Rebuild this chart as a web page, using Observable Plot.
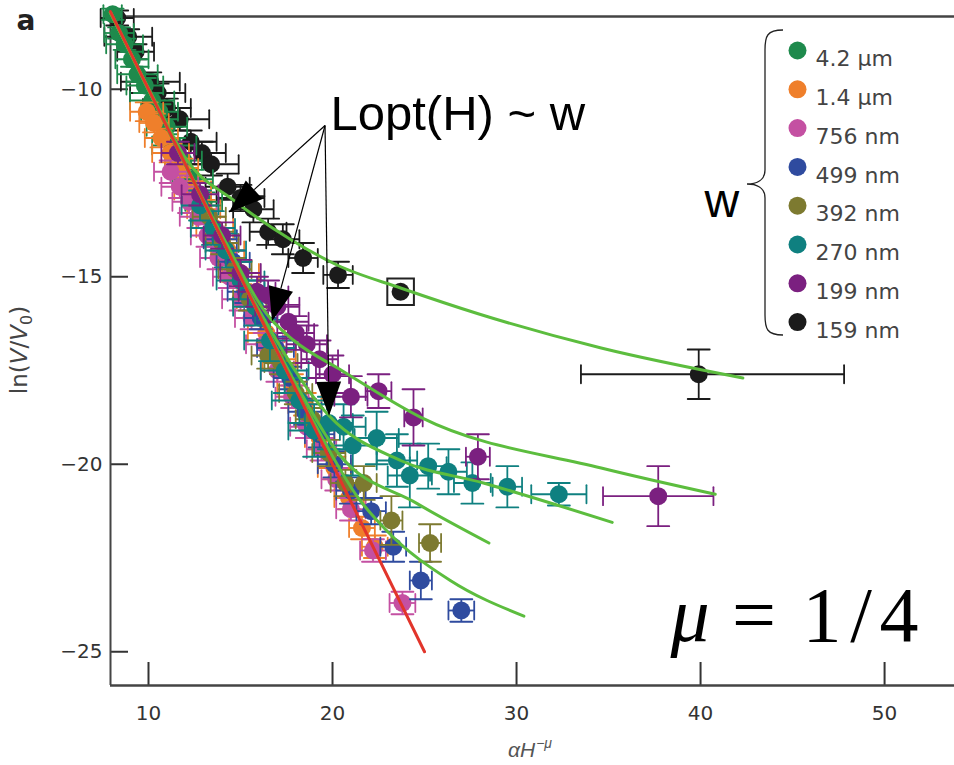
<!DOCTYPE html>
<html><head><meta charset="utf-8">
<script src="https://cdn.jsdelivr.net/npm/d3@7"></script>
<script src="https://cdn.jsdelivr.net/npm/@observablehq/plot@0.6"></script>
<style>html,body{margin:0;padding:0;background:#fff;} svg{display:block;}</style>
</head><body><div id="chart"></div>
<script>
// ---- legend / series meta ----
const seriesNames  = ["4.2 µm", "1.4 µm", "756 nm", "499 nm", "392 nm", "270 nm", "199 nm", "159 nm"];
const seriesColors = ["#1e8a4c", "#ef7f2b", "#c450a2", "#2f4b9f", "#7d7a30", "#0f8080", "#7b2080", "#1b1b1b"];

// ---- ticks ----
const xTicks = [10, 20, 30, 40, 50];
const yTicks = [-10, -15, -20, -25];

// ---- data: x, y, x-error (half width or [left,right]), y-error ----
const x159 = [8.3, 8.9, 9.3, 10.1, 10.5, 11.0, 11.7, 12.3, 12.9, 13.4, 14.3, 15.0, 15.7, 16.5, 17.3, 18.4, 20.3, 23.7, 39.9];
const y159 = [-8.1, -8.6, -9.0, -9.8, -10.1, -10.5, -10.8, -11.4, -11.7, -12.0, -12.6, -12.9, -13.2, -13.8, -14.0, -14.5, -14.95, -15.4, -17.6];
const ex159 = [0.9, 1.3, 1.0, 1.6, 1.5, 1.3, 1.6, 1.4, 1.3, 1.5, 1.2, 1.3, 1.1, 1.0, 0.9, 0.8, 0.8, 0, [6.4, 7.9]];
const ey159 = [0.2, 0.2, 0.2, 0.25, 0.25, 0.25, 0.3, 0.3, 0.3, 0.3, 0.35, 0.35, 0.35, 0.35, 0.4, 0.4, 0.35, 0, 0.66];

const x42 = [8.05, 8.4, 8.7, 9.1, 9.4, 9.8, 10.2, 10.6, 11.0, 11.4, 11.9, 12.4, 13.0];
const y42 = [-8.0, -8.5, -8.8, -9.2, -9.6, -9.9, -10.3, -10.6, -11.0, -11.5, -11.9, -12.4, -13.0];
const ex42 = [0.5, 0.8, 1.0, 0.9, 1.1, 1.0, 1.2, 1.0, 1.1, 1.2, 1.0, 1.1, 1.0];
const ey42 = [0.15, 0.15, 0.15, 0.2, 0.2, 0.2, 0.2, 0.2, 0.2, 0.2, 0.2, 0.25, 0.25];

const x14 = [9.9, 10.3, 10.7, 11.2, 11.8, 12.4, 13.0, 13.6, 14.3, 15.0, 15.7, 16.4, 17.1, 17.8, 18.5, 19.3, 20.1, 20.9, 21.6, 22.3];
const y14 = [-10.6, -10.9, -11.3, -11.7, -12.1, -12.7, -13.2, -13.7, -14.3, -14.9, -15.6, -16.5, -17.2, -17.9, -18.4, -19.3, -20.1, -20.9, -21.7, -22.2];
const ex14 = [0.9, 0.8, 0.9, 1.0, 0.9, 1.0, 0.9, 1.0, 0.9, 1.0, 0.9, 1.0, 0.9, 0.8, 0.9, 0.8, 0.9, 0.8, 0.7, 0.7];
const ey14 = [0.25, 0.25, 0.25, 0.25, 0.25, 0.25, 0.25, 0.3, 0.3, 0.3, 0.3, 0.3, 0.3, 0.3, 0.3, 0.3, 0.3, 0.3, 0.3, 0.3];

const x756 = [11.2, 11.7, 12.2, 12.7, 13.2, 13.8, 14.4, 15.0, 15.6, 16.3, 17.0, 17.8, 18.6, 19.4, 20.2, 21.0, 22.2, 23.8];
const y756 = [-12.2, -12.6, -13.0, -13.4, -13.9, -14.5, -15.0, -15.6, -16.1, -16.8, -17.5, -18.2, -19.0, -19.6, -20.4, -21.2, -22.3, -23.7];
const ex756 = [0.9, 1.0, 0.9, 1.0, 0.9, 1.0, 0.9, 1.0, 0.9, 1.0, 0.9, 0.9, 0.9, 0.8, 0.8, 0.8, 0.7, 0.7];
const ey756 = [0.3, 0.3, 0.3, 0.3, 0.3, 0.3, 0.3, 0.3, 0.3, 0.3, 0.3, 0.3, 0.3, 0.3, 0.3, 0.3, 0.3, 0.3];

const x499 = [13.9, 14.6, 15.3, 16.1, 16.9, 17.7, 18.5, 19.3, 20.1, 21.0, 22.1, 23.3, 24.8, 27.0];
const y499 = [-14.0, -14.6, -15.4, -16.1, -16.9, -17.7, -18.6, -19.2, -20.0, -20.7, -21.25, -22.2, -23.1, -23.9];
const ex499 = [0.9, 0.9, 1.0, 0.9, 1.0, 0.9, 0.9, 0.8, 0.9, 0.8, 0.8, 0.7, 0.6, 0.7];
const ey499 = [0.3, 0.3, 0.3, 0.3, 0.3, 0.3, 0.35, 0.35, 0.35, 0.35, 0.35, 0.4, 0.5, 0.3];

const x392 = [13.3, 14.0, 14.7, 15.5, 16.5, 17.2, 18.0, 18.9, 19.8, 20.7, 21.7, 23.2, 25.3];
const y392 = [-13.4, -14.1, -14.8, -15.6, -17.1, -17.3, -18.1, -18.8, -19.7, -20.5, -20.5, -21.5, -22.1];
const ex392 = [0.9, 0.9, 0.9, 0.9, 0.9, 0.9, 0.9, 0.9, 0.9, 0.8, 0.7, 0.6, 0.6];
const ey392 = [0.3, 0.3, 0.3, 0.3, 0.35, 0.3, 0.3, 0.3, 0.35, 0.35, 0.45, 0.65, 0.5];

const x270 = [12.8, 13.5, 14.2, 15.0, 15.8, 16.6, 17.4, 18.2, 19.0, 19.8, 20.6, 21.1, 22.4, 23.5, 24.2, 25.2, 26.3, 27.6, 29.5, 32.3];
const y270 = [-13.1, -13.7, -14.3, -15.1, -15.8, -16.7, -17.5, -18.3, -19.1, -18.9, -19.0, -19.5, -19.3, -19.9, -20.3, -20.05, -20.2, -20.5, -20.6, -20.8];
const ex270 = [1.0, 1.2, 1.1, 1.3, 1.2, 1.4, 1.3, 1.5, 1.4, 1.3, 1.2, 1.3, 1.2, 1.1, 1.2, 1.0, 1.0, 1.0, 0.8, 1.5];
const ey270 = [0.4, 0.45, 0.45, 0.5, 0.5, 0.55, 0.6, 0.6, 0.7, 0.7, 0.6, 0.8, 0.7, 0.7, 0.85, 0.6, 0.6, 0.55, 0.55, 0.3];

const x199 = [11.6, 12.8, 14.0, 15.0, 15.9, 16.5, 17.0, 17.6, 18.0, 18.6, 19.3, 20.0, 21.0, 22.5, 24.4, 27.9, 37.7];
const y199 = [-11.7, -12.8, -13.9, -14.9, -15.4, -15.5, -15.8, -16.2, -16.5, -16.8, -17.2, -17.6, -18.2, -18.05, -18.75, -19.8, -20.85];
const ex199 = [0.9, 1.0, 1.0, 1.1, 1.0, 1.1, 1.2, 1.1, 1.0, 1.1, 1.0, 0.9, 0.9, 0.7, 0.5, 0.65, 3.0];
const ey199 = [0.3, 0.3, 0.35, 0.35, 0.4, 0.4, 0.4, 0.45, 0.45, 0.5, 0.5, 0.5, 0.55, 0.45, 0.75, 0.6, 0.8];

// boxed point (159 nm)
const boxX = [23.7], boxY = [-15.4];

// ---- fitted curves (green) and the straight law (red) ----
const cx159 = [7.93, 10.5, 12.1, 14.6, 17.7, 20.3, 23.7, 28.0, 34.6, 42.3];
const cy159 = [-7.95, -10.45, -11.9, -12.95, -14.0, -14.7, -15.3, -16.0, -16.9, -17.7];
const cx199 = [7.93, 11.0, 14.0, 16.6, 17.9, 20.5, 24.8, 34.6, 40.8];
const cy199 = [-7.95, -11.0, -13.9, -16.1, -16.7, -17.5, -18.75, -20.1, -20.8];
const cx270 = [7.93, 12.0, 15.9, 19.8, 23.7, 28.2, 35.2];
const cy270 = [-7.95, -12.0, -15.8, -18.7, -19.9, -20.5, -21.55];
const cx392 = [7.93, 14.0, 18.0, 20.3, 24.6, 28.5];
const cy392 = [-7.95, -14.0, -17.85, -19.7, -21.05, -22.1];
const cx499 = [7.93, 14.0, 19.0, 21.4, 23.0, 26.4, 30.4];
const cy499 = [-7.95, -14.0, -18.9, -20.9, -21.8, -23.1, -24.05];
const redX = [7.93, 25.0];
const redY = [-7.93, -25.0];

// annotation arrows (data coords): common origin and three tips
const arrowFrom = [19.62, -10.98];
const arrowTipX = [14.4, 16.74, 19.84];
const arrowTipY = [-13.3, -16.2, -18.72];

// ---- build ----
function rows(xs, ys, exs, eys) {
  return xs.map((x, i) => {
    const e = exs[i];
    const [l, r] = Array.isArray(e) ? e : [e, e];
    return {x, y: ys[i], xl: x - l, xh: x + r, yl: ys[i] - eys[i], yh: ys[i] + eys[i]};
  });
}
const seriesData = {
  "159 nm": rows(x159, y159, ex159, ey159),
  "4.2 µm": rows(x42, y42, ex42, ey42),
  "1.4 µm": rows(x14, y14, ex14, ey14),
  "756 nm": rows(x756, y756, ex756, ey756),
  "499 nm": rows(x499, y499, ex499, ey499),
  "392 nm": rows(x392, y392, ex392, ey392),
  "270 nm": rows(x270, y270, ex270, ey270),
  "199 nm": rows(x199, y199, ex199, ey199)
};
const drawOrder = ["159 nm", "4.2 µm", "1.4 µm", "756 nm", "499 nm", "392 nm", "270 nm", "199 nm"];
const colorOf = Object.fromEntries(seriesNames.map((n, i) => [n, seriesColors[i]]));

const lineShape = {draw(ctx, l) { ctx.moveTo(0, 0); ctx.lineTo(0, -l); }};
const EW = 1.8;

const seriesMarks = drawOrder.flatMap(name => {
  const d = seriesData[name], c = colorOf[name];
  const dx = d.filter(r => r.xh > r.xl), dy = d.filter(r => r.yh > r.yl);
  const xCaps = dx.flatMap(r => [{x: r.xl, y: r.y}, {x: r.xh, y: r.y}]);
  const yCaps = dy.flatMap(r => [{x: r.x, y: r.yl}, {x: r.x, y: r.yh}]);
  return [
    Plot.link(dx, {x1: "xl", x2: "xh", y1: "y", y2: "y", stroke: c, strokeWidth: EW}),
    Plot.link(dy, {x1: "x", x2: "x", y1: "yl", y2: "yh", stroke: c, strokeWidth: EW}),
    Plot.vector(xCaps, {x: "x", y: "y", length: 18, rotate: 0, anchor: "middle", shape: lineShape, stroke: c, strokeWidth: EW}),
    Plot.vector(yCaps, {x: "x", y: "y", length: 22, rotate: 90, anchor: "middle", shape: lineShape, stroke: c, strokeWidth: EW}),
    Plot.dot(d, {x: "x", y: "y", r: 9, fill: c})
  ];
});

const curveMarks = [[cx159, cy159], [cx199, cy199], [cx270, cy270], [cx392, cy392], [cx499, cy499]]
  .map(([xs, ys]) => Plot.line(xs.map((x, i) => ({x, y: ys[i]})), {x: "x", y: "y", stroke: "#5cbd3e", strokeWidth: 3, curve: "monotone-x"}));

const SANS = "'DejaVu Sans', Verdana, sans-serif";
const legendMarks = seriesNames.flatMap((n, i) => [
  Plot.dot([n], {frameAnchor: "top-right", dx: -157, dy: 34 + i * 38.8, r: 9, fill: seriesColors[i]}),
  Plot.text([n], {frameAnchor: "top-right", dx: -139, dy: 34 + i * 38.8, text: d => d, textAnchor: "start", fontSize: 22, fontFamily: SANS, fill: "#444"})
]);

const plot = Plot.plot({
  width: 954, height: 765,
  marginLeft: 110, marginRight: 0, marginTop: 16, marginBottom: 80,
  x: {domain: [7.935, 53.8]},
  y: {domain: [-25.9, -8.06]},
  style: {fontFamily: "'Liberation Sans', Arial, sans-serif", background: "#fff", overflow: "visible"},
  marks: [
    Plot.axisX(xTicks, {tickSize: 0, tickPadding: 20, fontSize: 20, fontFamily: SANS, fill: "#333", label: null}),
    Plot.axisY(yTicks, {tickSize: 0, tickPadding: 8, fontSize: 20, fontFamily: SANS, fill: "#333", label: null}),
    Plot.tickY(yTicks, {y: d => d, insetRight: 826, stroke: "#333", strokeWidth: 2}),
    Plot.tickX(xTicks, {x: d => d, insetTop: 646, stroke: "#333", strokeWidth: 2}),
    Plot.ruleX([7.935], {stroke: "#444", strokeWidth: 2}),
    Plot.ruleY([-25.9], {stroke: "#444", strokeWidth: 2.5}),
    Plot.ruleY([-8.06], {stroke: "#444", strokeWidth: 2.5}),
    ...seriesMarks,
    Plot.dot(boxX.map((x, i) => ({x, y: boxY[i]})), {x: "x", y: "y", symbol: "square", r: 15, stroke: "#222", strokeWidth: 2, fill: "none"}),
    ...curveMarks,
    Plot.line(redX.map((x, i) => ({x, y: redY[i]})), {x: "x", y: "y", stroke: "#e2352b", strokeWidth: 3}),
    ...legendMarks,
    Plot.text(["Lopt(H) ~ w"], {frameAnchor: "top-left", dx: 220, dy: 79, text: d => d, textAnchor: "start", fontSize: 49, fill: "#000"}),
    Plot.text(["w"], {frameAnchor: "top-left", dx: 594, dy: 166, text: d => d, textAnchor: "start", fontSize: 48, fill: "#000"})
  ]
});
document.getElementById("chart").appendChild(plot);

// ---- overlay: arrows, brace, formula, titles ----
const svg = d3.select(plot);
const sx = plot.scale("x").apply, sy = plot.scale("y").apply;
const ox = sx(arrowFrom[0]), oy = sy(arrowFrom[1]);
const ag = svg.append("g");
arrowTipX.forEach((tx0, i) => {
  const tx = sx(tx0), ty = sy(arrowTipY[i]);
  const dxp = tx - ox, dyp = ty - oy, len = Math.hypot(dxp, dyp);
  const ux = dxp / len, uy = dyp / len, L = 34, hw = 12.5;
  const bx = tx - ux * L, by = ty - uy * L;
  ag.append("line").attr("x1", ox).attr("y1", oy).attr("x2", bx).attr("y2", by).attr("stroke", "#000").attr("stroke-width", 1.2);
  ag.append("path").attr("d", `M${tx},${ty}L${bx - uy * hw},${by + ux * hw}L${bx + uy * hw},${by - ux * hw}Z`).attr("fill", "#000");
});
// brace
const bxr = 765, btop = 30, bbot = 335, bmid = 184;
svg.append("path")
  .attr("d", `M${bxr + 18},${btop} C${bxr + 2},${btop} ${bxr},${btop + 6} ${bxr},${btop + 20} L${bxr},${bmid - 14} C${bxr},${bmid - 4} ${bxr - 8},${bmid} ${bxr - 18},${bmid} C${bxr - 8},${bmid} ${bxr},${bmid + 4} ${bxr},${bmid + 14} L${bxr},${bbot - 20} C${bxr},${bbot - 6} ${bxr + 2},${bbot} ${bxr + 18},${bbot}`)
  .attr("fill", "none").attr("stroke", "#222").attr("stroke-width", 1.3);
// mu = 1/4
const fg = svg.append("g").attr("font-family", "'Liberation Serif', 'DejaVu Serif', serif").attr("font-size", 78).attr("fill", "#000");
[["μ", 690, "italic"], ["=", 754, "normal"], ["1", 822, "normal"], ["/", 861, "normal"], ["4", 899, "normal"]].forEach(([t, x, st]) => {
  fg.append("text").attr("x", x).attr("y", 641).attr("font-style", st).text(t);
});
// title "a"
svg.append("text").attr("x", 26).attr("y", 30).attr("font-size", 28).attr("font-weight", "bold").attr("font-family", SANS).attr("fill", "#222").text("a");
// y title
const yt = svg.append("text").attr("transform", "translate(27,350) rotate(-90)").attr("text-anchor", "middle").attr("font-size", 23).attr("font-family", SANS).attr("fill", "#444");
yt.append("tspan").text("ln(");
yt.append("tspan").attr("font-style", "italic").text("V");
yt.append("tspan").text("/");
yt.append("tspan").attr("font-style", "italic").text("V");
yt.append("tspan").attr("font-size", 16).attr("dy", 5).text("0");
yt.append("tspan").attr("dy", -5).text(")");
// x title
const xt = svg.append("text").attr("x", 530).attr("y", 757).attr("text-anchor", "middle").attr("font-size", 21).attr("fill", "#555").attr("font-style", "italic");
xt.append("tspan").text("αH");
xt.append("tspan").attr("font-size", 14).attr("dy", -9).attr("dx", 1).text("−μ");
</script>
</body></html>
